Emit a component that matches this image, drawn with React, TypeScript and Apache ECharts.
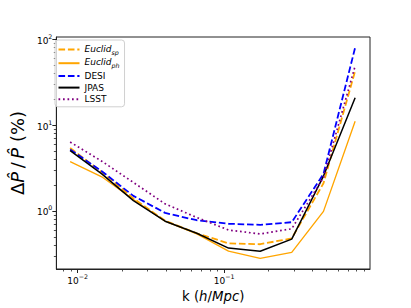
import React, { useEffect, useRef } from "react";
import * as echarts from "echarts";

const K = [0.00888, 0.0146, 0.024, 0.0395, 0.065, 0.107, 0.176, 0.289, 0.476, 0.783];
const EUCLID_SP = [5.4, 2.85, 1.4, 0.77, 0.55, 0.42, 0.41, 0.48, 2.1, 42.7];
const EUCLID_PH = [3.75, 2.5, 1.36, 0.76, 0.54, 0.34, 0.28, 0.33, 0.99, 11.1];
const DESI = [5.2, 2.9, 1.5, 0.95, 0.78, 0.71, 0.69, 0.74, 2.7, 80];
const JPAS = [5.05, 2.7, 1.32, 0.76, 0.55, 0.37, 0.34, 0.47, 2.55, 20.8];
const LSST = [6.35, 3.8, 2.15, 1.21, 0.84, 0.6, 0.54, 0.62, 2.45, 48.8];

const X_MAJOR = [0.01, 0.1];
const X_MINOR = [0.008, 0.009, 0.02, 0.03, 0.04, 0.05, 0.06, 0.07, 0.08, 0.09, 0.2, 0.3, 0.4, 0.5, 0.6, 0.7, 0.8, 0.9];
const Y_MAJOR = [1, 10, 100];
const Y_MINOR = [0.3, 0.4, 0.5, 0.6, 0.7, 0.8, 0.9, 2, 3, 4, 5, 6, 7, 8, 9, 20, 30, 40, 50, 60, 70, 80, 90];

const X_MIN = 0.00715;
const X_MAX = 0.989;
const Y_MIN = 0.211;
const Y_MAX = 106.2;

const FONT = "DejaVu Sans";
const AXIS_COLOR = "#222";

const pow10Label = (v: number) => {
  const e = Math.round(Math.log10(v));
  if (Math.abs(Math.log10(v) - e) > 1e-6) return "";
  const s = e < 0 ? "\u2212" + String(-e) : String(e);
  return "{b|10}{s|" + s + "}";
};

const supRich = {
  b: { fontFamily: FONT, fontSize: 9, color: "#000", lineHeight: 12, verticalAlign: "bottom" },
  s: { fontFamily: FONT, fontSize: 6.3, color: "#000", lineHeight: 12, verticalAlign: "top" },
};

const legendNames: Record<string, string> = {
  Euclid_sp: "{it|Euclid}{sub|sp}",
  Euclid_ph: "{it|Euclid}{sub|ph}",
  DESI: "{n|DESI}",
  JPAS: "{n|JPAS}",
  LSST: "{n|LSST}",
};

export default function App() {
  const ref = useRef<HTMLDivElement>(null);
  useEffect(() => {
    if (!ref.current) return;
    const chart = echarts.init(ref.current, undefined, { renderer: "svg" });
    const mk = (name: string, vals: number[], color: string, type: any, width: number, z: number) => ({
      name,
      type: "line",
      data: K.map((k, i) => [k, vals[i]]),
      showSymbol: false,
      symbol: "none",
      z,
      lineStyle: { color, width, type },
      itemStyle: { color },
    });
    chart.setOption({
      animation: false,
      backgroundColor: "#fff",
      grid: {
        left: 51,
        top: 37,
        width: 319,
        height: 237,
        show: true,
        borderColor: AXIS_COLOR,
        borderWidth: 1,
        backgroundColor: "transparent",
      },
      legend: {
        orient: "vertical",
        left: 55,
        top: 40,
        padding: [4, 5, 3, 2.5],
        itemWidth: 21,
        itemHeight: 8,
        itemGap: 2.7,
        itemStyle: { opacity: 0, borderWidth: 0 },
        backgroundColor: "rgba(255,255,255,0.8)",
        borderColor: "#d0d0d0",
        borderWidth: 1,
        borderRadius: 3,
        data: ["Euclid_sp", "Euclid_ph", "DESI", "JPAS", "LSST"],
        formatter: (n: string) => legendNames[n] || n,
        textStyle: {
          fontFamily: FONT,
          fontSize: 9,
          color: "#000",
          rich: {
            it: { fontFamily: FONT, fontSize: 9, fontStyle: "italic", color: "#000", lineHeight: 11, verticalAlign: "top" },
            sub: { fontFamily: FONT, fontSize: 6.3, fontStyle: "italic", color: "#000", lineHeight: 11, verticalAlign: "bottom" },
            n: { fontFamily: FONT, fontSize: 9, color: "#000", lineHeight: 11 },
          },
        },
      },
      xAxis: [
        {
          type: "log",
          logBase: 10,
          min: X_MIN,
          max: X_MAX,
          position: "bottom",
          axisLine: { show: true, lineStyle: { color: AXIS_COLOR, width: 1 } },
          axisTick: { show: true, length: 4, lineStyle: { color: AXIS_COLOR, width: 1 }, customValues: X_MAJOR },
          axisLabel: { margin: 4, formatter: pow10Label, rich: supRich, customValues: X_MAJOR },
          splitLine: { show: false },
          name: "{n|k (}{i|h}{n|/}{i|Mpc}{n|)}",
          nameLocation: "middle",
          nameGap: 21,
          nameTextStyle: {
            rich: {
              n: { fontFamily: FONT, fontSize: 13.3, color: "#000" },
              i: { fontFamily: FONT, fontSize: 13.3, fontStyle: "italic", color: "#000" },
            },
          },
        },
        {
          type: "log",
          logBase: 10,
          min: X_MIN,
          max: X_MAX,
          position: "bottom",
          axisLine: { show: false },
          axisTick: { show: true, length: 2.5, lineStyle: { color: AXIS_COLOR, width: 0.8 }, customValues: X_MINOR },
          axisLabel: { show: false },
          splitLine: { show: false },
        },
      ],
      yAxis: [
        {
          type: "log",
          logBase: 10,
          min: Y_MIN,
          max: Y_MAX,
          position: "left",
          axisLine: { show: true, lineStyle: { color: AXIS_COLOR, width: 1 } },
          axisTick: { show: true, length: 4, lineStyle: { color: AXIS_COLOR, width: 1 }, customValues: Y_MAJOR },
          axisLabel: { margin: 4, formatter: pow10Label, rich: supRich, customValues: Y_MAJOR },
          splitLine: { show: false },
          name: "{g|\u0394}{i|P\u0302}{g|\u2009/\u2009}{i|P\u0302}{g| (%)}",
          nameLocation: "middle",
          nameRotate: 90,
          nameGap: 25,
          nameTextStyle: {
            rich: {
              g: { fontFamily: FONT, fontSize: 18, color: "#000" },
              i: { fontFamily: FONT, fontSize: 18, fontStyle: "italic", color: "#000" },
            },
          },
        },
        {
          type: "log",
          logBase: 10,
          min: Y_MIN,
          max: Y_MAX,
          position: "left",
          axisLine: { show: false },
          axisTick: { show: true, length: 2.5, lineStyle: { color: AXIS_COLOR, width: 0.8 }, customValues: Y_MINOR },
          axisLabel: { show: false },
          splitLine: { show: false },
        },
      ],
      series: [
        mk("Euclid_sp", EUCLID_SP, "#FFA500", [6.6, 2.8], 1.8, 2),
        mk("Euclid_ph", EUCLID_PH, "#FFA500", "solid", 1.35, 3),
        mk("DESI", DESI, "#0000FF", [6.6, 2.8], 1.8, 4),
        mk("JPAS", JPAS, "#000000", "solid", 1.5, 5),
        mk("LSST", LSST, "#800080", [1.7, 2.8], 1.7, 6),
      ],
    });
    return () => chart.dispose();
  }, []);
  return <div ref={ref} style={{ position: "absolute", left: 0, top: 0, width: 411, height: 308 }} />;
}
